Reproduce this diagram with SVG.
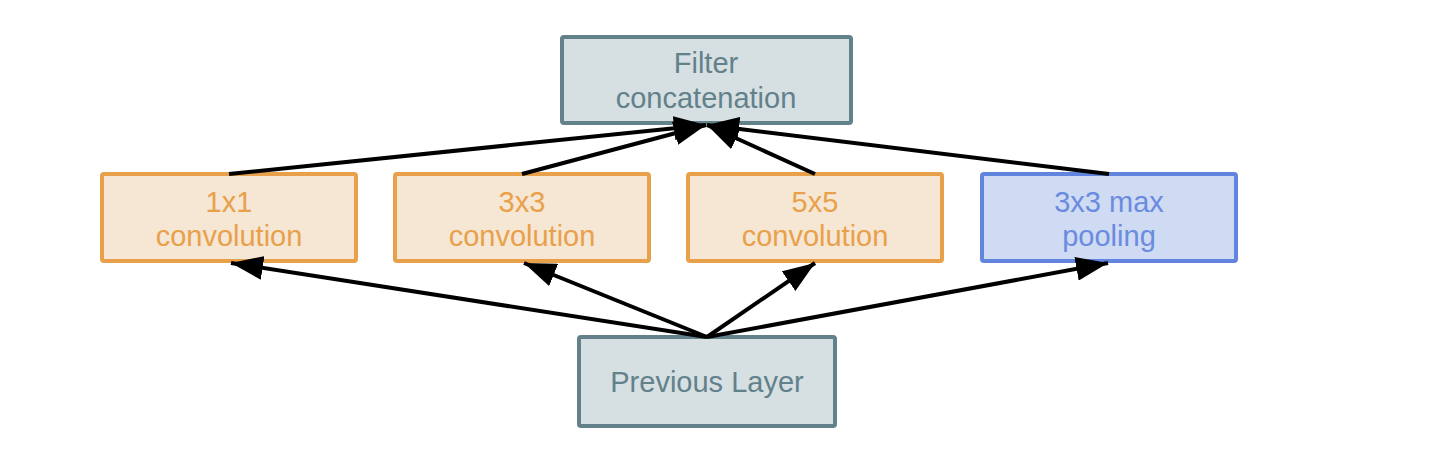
<svg xmlns="http://www.w3.org/2000/svg" width="1450" height="458" viewBox="0 0 1450 458">
  <style>
    text { font-family: "Liberation Sans", Arial, Helvetica, sans-serif; font-size: 29px; text-anchor: middle; }
    .gray rect { fill: #d6dfe2; stroke: #62818b; stroke-width: 4; }
    .gray text { fill: #62818b; }
    .orange rect { fill: #f6e6d4; stroke: #e8a14a; stroke-width: 4; }
    .orange text { fill: #e8a14a; }
    .blue rect { fill: #cfdaf3; stroke: #6185df; stroke-width: 4; }
    .blue text { fill: #6a8be0; }
    .edge { stroke: #000; stroke-width: 4; fill: none; marker-end: url(#arrow); }
  </style>
  <defs>
    <marker id="arrow" markerUnits="userSpaceOnUse" markerWidth="32" markerHeight="24" refX="32" refY="12" orient="auto">
      <path d="M0,0 L32,12 L0,24 z" fill="#000"/>
    </marker>
  </defs>
  <rect width="1450" height="458" fill="#ffffff"/>
  <g id="filter" class="gray">
    <rect x="562" y="37" width="289" height="86" rx="2"/>
    <text x="706" y="73">Filter</text>
    <text x="706" y="108">concatenation</text>
  </g>
  <g id="conv1" class="orange">
    <rect x="102" y="174" width="254" height="87" rx="2"/>
    <text x="229" y="212">1x1</text>
    <text x="229" y="246">convolution</text>
  </g>
  <g id="conv3" class="orange">
    <rect x="395" y="174" width="254" height="87" rx="2"/>
    <text x="522" y="212">3x3</text>
    <text x="522" y="246">convolution</text>
  </g>
  <g id="conv5" class="orange">
    <rect x="688" y="174" width="254" height="87" rx="2"/>
    <text x="815" y="212">5x5</text>
    <text x="815" y="246">convolution</text>
  </g>
  <g id="pool" class="blue">
    <rect x="982" y="174" width="254" height="87" rx="2"/>
    <text x="1109" y="212">3x3 max</text>
    <text x="1109" y="246">pooling</text>
  </g>
  <g id="prev" class="gray">
    <rect x="579" y="337" width="256" height="89" rx="2"/>
    <text x="707" y="392">Previous Layer</text>
  </g>
  <g id="connectors">
    <line class="edge" x1="707" y1="337" x2="231" y2="263"/>
    <line class="edge" x1="707" y1="337" x2="524" y2="263"/>
    <line class="edge" x1="707" y1="337" x2="815" y2="263"/>
    <line class="edge" x1="707" y1="337" x2="1108" y2="263"/>
    <line class="edge" x1="229" y1="174" x2="706" y2="125"/>
    <line class="edge" x1="522" y1="174" x2="706" y2="125"/>
    <line class="edge" x1="815" y1="174" x2="707" y2="125"/>
    <line class="edge" x1="1109" y1="174" x2="707" y2="125"/>
  </g>
</svg>
